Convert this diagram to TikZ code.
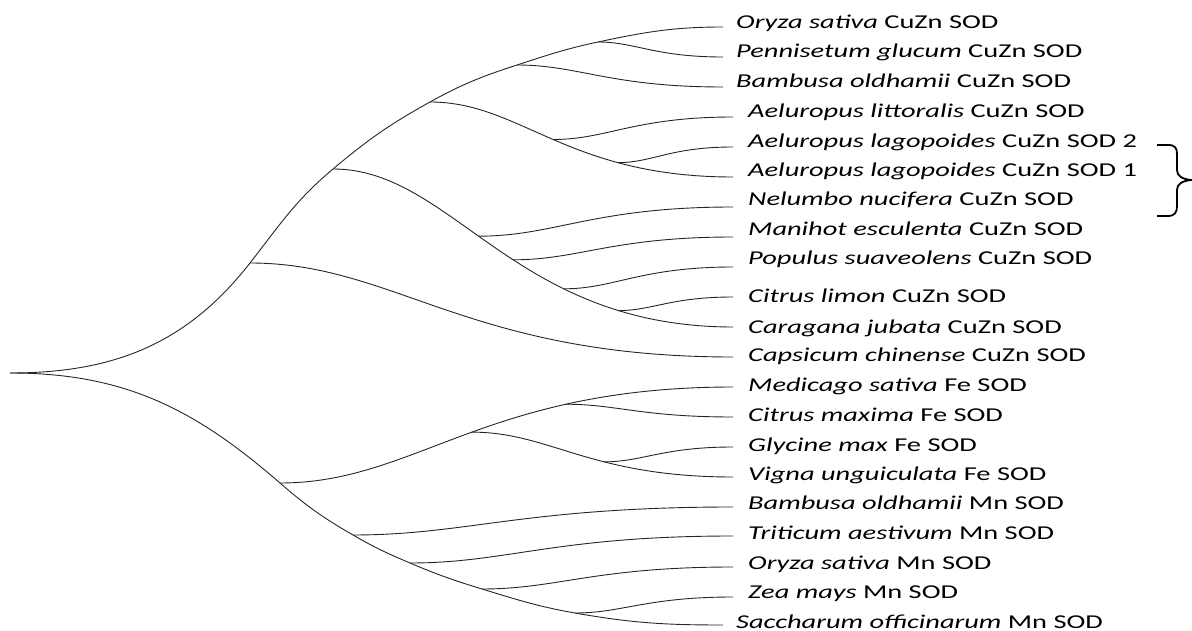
\documentclass[tikz,border=0pt]{standalone}
\usepackage{fontspec}
\setmainfont{Carlito}
\usepackage{graphicx}
\usetikzlibrary{calc}
\newcommand{\leaflabel}[2]{\scalebox{1.45}[1]{\textit{#1} #2}}
\begin{document}
\begin{tikzpicture}[x=1pt,y=1pt,
  edge/.style={draw=black!85,line width=0.9pt},
  sbranch/.style={to path={.. controls ($(\tikztostart)!0.3!(\tikztotarget|-\tikztostart)$) and ($(\tikztotarget)!0.55!(\tikztostart|-\tikztotarget)$) .. (\tikztotarget) \tikztonodes}},
  lab/.style={anchor=base west,inner sep=0pt,font=\fontsize{19.6pt}{22pt}\selectfont},
  bracestyle/.style={draw=black,line width=1.8pt}]
\useasboundingbox (0,0) rectangle (1192,-631);
% internal nodes on the outer curves
\coordinate (root) at (10,-373);
\coordinate (a) at (250,-263);
\coordinate (b) at (333,-169);
\coordinate (c) at (430,-102);
\coordinate (d) at (517,-65);
\coordinate (e) at (598,-42);
\coordinate (n1) at (280,-483);
\coordinate (n2) at (353,-535);
\coordinate (n3) at (410,-563);
\coordinate (n4) at (482,-589);
\coordinate (n5) at (575,-613);
% leaf ends
\coordinate (L1) at (723,-27);
\coordinate (L2) at (723,-57);
\coordinate (L3) at (723,-87);
\coordinate (L4) at (733,-117);
\coordinate (L5) at (733,-147);
\coordinate (L6) at (733,-177);
\coordinate (L7) at (733,-207);
\coordinate (L8) at (733,-237);
\coordinate (L9) at (733,-267);
\coordinate (L10) at (733,-297);
\coordinate (L11) at (733,-327);
\coordinate (L12) at (733,-357);
\coordinate (L13) at (733,-387);
\coordinate (L14) at (733,-417);
\coordinate (L15) at (733,-447);
\coordinate (L16) at (733,-477);
\coordinate (L17) at (733,-507);
\coordinate (L18) at (733,-536);
\coordinate (L19) at (733,-567);
\coordinate (L20) at (733,-597);
\coordinate (L21) at (723,-625);
% outer curves
\draw[edge] (root) to[out=0,in=232] (a) to[out=52,in=220] (b) to[out=40,in=209] (c)
  to[out=29,in=198] (d) to[out=18,in=192] (e) to[out=12,in=180] (L1);
\draw[edge] (root) to[out=0,in=139] (n1) to[out=-41,in=150] (n2) to[out=-30,in=157] (n3)
  to[out=-23,in=163] (n4) to[out=-17,in=170] (n5) to[out=-10,in=180] (L21);
% inner chains
\draw[edge] (b) to[sbranch] coordinate[pos=0.45] (f) coordinate[pos=0.55] (g)
  coordinate[pos=0.68] (h) coordinate[pos=0.8] (i) (L11);
\draw[edge] (c) to[sbranch] coordinate[pos=0.5] (j) coordinate[pos=0.72] (k) (L6);
\draw[edge] (n1) to[sbranch] coordinate[pos=0.52] (m) coordinate[pos=0.73] (p) (L13);
\draw[edge] (m) to[sbranch] coordinate[pos=0.61] (q) (L16);
% single branches
\draw[edge] (e) to[sbranch] (L2);
\draw[edge] (d) to[sbranch] (L3);
\draw[edge] (j) to[sbranch] (L4);
\draw[edge] (k) to[sbranch] (L5);
\draw[edge] (f) to[sbranch] (L7);
\draw[edge] (g) to[sbranch] (L8);
\draw[edge] (h) to[sbranch] (L9);
\draw[edge] (i) to[sbranch] (L10);
\draw[edge] (a) to[sbranch] (L12);
\draw[edge] (p) to[sbranch] (L14);
\draw[edge] (q) to[sbranch] (L15);
\draw[edge] (n2) to[sbranch] (L17);
\draw[edge] (n3) to[sbranch] (L18);
\draw[edge] (n4) to[sbranch] (L19);
\draw[edge] (n5) to[sbranch] (L20);
% labels
\node[lab] (t1) at (736,-29) {\leaflabel{Oryza sativa}{CuZn SOD}};
\node[lab] (t2) at (736,-58) {\leaflabel{Pennisetum glucum}{CuZn SOD}};
\node[lab] (t3) at (736,-88) {\leaflabel{Bambusa oldhamii}{CuZn SOD}};
\node[lab] (t4) at (748,-118) {\leaflabel{Aeluropus littoralis}{CuZn SOD}};
\node[lab] (t5) at (748,-148) {\leaflabel{Aeluropus lagopoides}{CuZn SOD 2}};
\node[lab] (t6) at (748,-177) {\leaflabel{Aeluropus lagopoides}{CuZn SOD 1}};
\node[lab] (t7) at (748,-206) {\leaflabel{Nelumbo nucifera}{CuZn SOD}};
\node[lab] (t8) at (748,-236) {\leaflabel{Manihot esculenta}{CuZn SOD}};
\node[lab] (t9) at (748,-265) {\leaflabel{Populus suaveolens}{CuZn SOD}};
\node[lab] (t10) at (748,-302) {\leaflabel{Citrus limon}{CuZn SOD}};
\node[lab] (t11) at (748,-333) {\leaflabel{Caragana jubata}{CuZn SOD}};
\node[lab] (t12) at (748,-361) {\leaflabel{Capsicum chinense}{CuZn SOD}};
\node[lab] (t13) at (748,-391) {\leaflabel{Medicago sativa}{Fe SOD}};
\node[lab] (t14) at (748,-421) {\leaflabel{Citrus maxima}{Fe SOD}};
\node[lab] (t15) at (748,-451) {\leaflabel{Glycine max}{Fe SOD}};
\node[lab] (t16) at (748,-480) {\leaflabel{Vigna unguiculata}{Fe SOD}};
\node[lab] (t17) at (748,-509) {\leaflabel{Bambusa oldhamii}{Mn SOD}};
\node[lab] (t18) at (748,-539) {\leaflabel{Triticum aestivum}{Mn SOD}};
\node[lab] (t19) at (748,-569) {\leaflabel{Oryza sativa}{Mn SOD}};
\node[lab] (t20) at (748,-598) {\leaflabel{Zea mays}{Mn SOD}};
\node[lab] (t21) at (736,-628) {\leaflabel{Saccharum officinarum}{Mn SOD}};
% brace
\draw[bracestyle] (1157,-145) -- (1168,-145) .. controls (1175,-145) and (1177,-148) .. (1177,-154)
  -- (1177,-170) .. controls (1177,-176) and (1182,-179) .. (1191,-180)
  .. controls (1182,-181) and (1177,-184) .. (1177,-190)
  -- (1177,-206) .. controls (1177,-212) and (1175,-216) .. (1168,-216) -- (1157,-216);
\end{tikzpicture}
\end{document}
